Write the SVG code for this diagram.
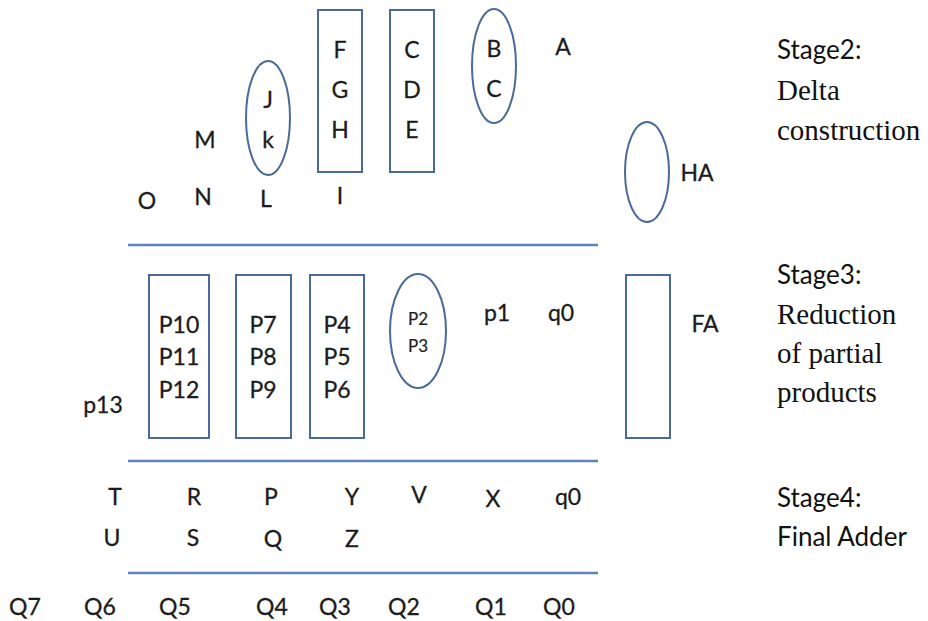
<svg xmlns="http://www.w3.org/2000/svg" width="928" height="621" viewBox="0 0 928 621">
  <style>
    .bg { fill: #ffffff; }
    .shape { fill: none; stroke: #4a6a98; stroke-width: 2; }
    .rule { stroke: #5b82bb; stroke-width: 2.5; }
    .t { font-family: Lato, "Open Sans", sans-serif; font-size: 23px; fill: #1c1c1c; text-anchor: middle; stroke: #1c1c1c; stroke-width: 0.3; }
    .ts { font-family: Lato, "Open Sans", sans-serif; font-size: 17px; fill: #1c1c1c; text-anchor: middle; stroke: #1c1c1c; stroke-width: 0.2; }
    .stage { font-family: Lato, "Open Sans", sans-serif; font-size: 26px; fill: #111111; }
    .serif { font-family: "Liberation Serif", "Times New Roman", serif; font-size: 29px; fill: #111111; }
  </style>
  <rect class="bg" x="0" y="0" width="928" height="621"/>

  <!-- stage separators -->
  <g id="connectors">
    <line class="rule" x1="128" y1="245" x2="598" y2="245"/>
    <line class="rule" x1="128" y1="461" x2="598" y2="461"/>
    <line class="rule" x1="128" y1="573" x2="598" y2="573"/>
  </g>

  <!-- Stage 2: delta construction -->
  <g id="fgh">
    <rect class="shape" x="318" y="10" width="44" height="162"/>
    <text class="t" x="340" y="58">F</text>
    <text class="t" x="340" y="98">G</text>
    <text class="t" x="340" y="138">H</text>
  </g>
  <g id="cde">
    <rect class="shape" x="390" y="10" width="44" height="162"/>
    <text class="t" x="412" y="58">C</text>
    <text class="t" x="412" y="98">D</text>
    <text class="t" x="412" y="138">E</text>
  </g>
  <g id="bc">
    <ellipse class="shape" cx="494" cy="66" rx="22" ry="57"/>
    <text class="t" x="494" y="57">B</text>
    <text class="t" x="494" y="97">C</text>
  </g>
  <g id="a"><text class="t" x="563" y="55">A</text></g>
  <g id="jk">
    <ellipse class="shape" cx="268" cy="118" rx="22" ry="57"/>
    <text class="t" x="268" y="108">J</text>
    <text class="t" x="268" y="148">k</text>
  </g>
  <g id="m"><text class="t" x="205" y="148">M</text></g>
  <g id="o"><text class="t" x="147" y="209">O</text></g>
  <g id="n"><text class="t" x="203" y="205">N</text></g>
  <g id="l"><text class="t" x="266" y="207">L</text></g>
  <g id="i"><text class="t" x="340" y="204">I</text></g>
  <g id="ha">
    <ellipse class="shape" cx="647" cy="172" rx="22" ry="50"/>
    <text class="t" x="697" y="181">HA</text>
  </g>

  <!-- Stage 3: reduction of partial products -->
  <g id="p10">
    <rect class="shape" x="149" y="275" width="60" height="163"/>
    <text class="t" x="179" y="333">P10</text>
    <text class="t" x="179" y="365">P11</text>
    <text class="t" x="179" y="398">P12</text>
  </g>
  <g id="p7">
    <rect class="shape" x="236" y="275" width="55" height="163"/>
    <text class="t" x="263" y="333">P7</text>
    <text class="t" x="263" y="365">P8</text>
    <text class="t" x="263" y="398">P9</text>
  </g>
  <g id="p4">
    <rect class="shape" x="310" y="275" width="54" height="163"/>
    <text class="t" x="337" y="333">P4</text>
    <text class="t" x="337" y="365">P5</text>
    <text class="t" x="337" y="398">P6</text>
  </g>
  <g id="p2">
    <ellipse class="shape" cx="418" cy="331" rx="28" ry="57"/>
    <text class="ts" x="418" y="325">P2</text>
    <text class="ts" x="418" y="352">P3</text>
  </g>
  <g id="p1"><text class="t" x="497" y="321">p1</text></g>
  <g id="q0a"><text class="t" x="561" y="321">q0</text></g>
  <g id="p13"><text class="t" x="103" y="413">p13</text></g>
  <g id="fa">
    <rect class="shape" x="626" y="275" width="44" height="163"/>
    <text class="t" x="705" y="332">FA</text>
  </g>

  <!-- Stage 4: final adder -->
  <g id="tu">
    <text class="t" x="115" y="505">T</text>
    <text class="t" x="112" y="546">U</text>
  </g>
  <g id="rs">
    <text class="t" x="194" y="505">R</text>
    <text class="t" x="193" y="546">S</text>
  </g>
  <g id="pq">
    <text class="t" x="271" y="505">P</text>
    <text class="t" x="273" y="547">Q</text>
  </g>
  <g id="yz">
    <text class="t" x="352" y="505">Y</text>
    <text class="t" x="352" y="547">Z</text>
  </g>
  <g id="v"><text class="t" x="419" y="503">V</text></g>
  <g id="x"><text class="t" x="493" y="507">X</text></g>
  <g id="q0b"><text class="t" x="568" y="505">q0</text></g>

  <!-- outputs -->
  <g id="outputs">
    <text class="t" x="25" y="615">Q7</text>
    <text class="t" x="100" y="615">Q6</text>
    <text class="t" x="175" y="615">Q5</text>
    <text class="t" x="272" y="615">Q4</text>
    <text class="t" x="335" y="615">Q3</text>
    <text class="t" x="404" y="615">Q2</text>
    <text class="t" x="491" y="615">Q1</text>
    <text class="t" x="559" y="615">Q0</text>
  </g>

  <!-- stage captions -->
  <g id="stage2">
    <text class="stage" x="777" y="59">Stage2:</text>
    <text class="serif" x="777" y="100">Delta</text>
    <text class="serif" x="777" y="140">construction</text>
  </g>
  <g id="stage3">
    <text class="stage" x="777" y="284">Stage3:</text>
    <text class="serif" x="777" y="324">Reduction</text>
    <text class="serif" x="777" y="363">of partial</text>
    <text class="serif" x="777" y="402">products</text>
  </g>
  <g id="stage4">
    <text class="stage" x="777" y="507">Stage4:</text>
    <text class="stage" x="777" y="546">Final Adder</text>
  </g>
</svg>
